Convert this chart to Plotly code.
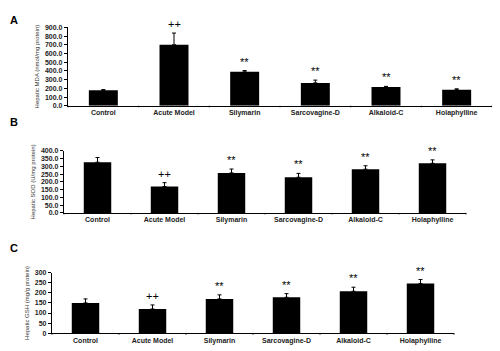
import plotly.graph_objects as go

categories = ["Control", "Acute Model", "Silymarin", "Sarcovagine-D", "Alkaloid-C", "Holaphylline"]

mda_values = [178, 700, 390, 263, 215, 185]
mda_errors = [8, 135, 15, 32, 8, 10]
mda_marks = ["", "++", "**", "**", "**", "**"]

sod_values = [327, 170, 258, 230, 282, 320]
sod_errors = [30, 25, 25, 25, 22, 22]
sod_marks = ["", "++", "**", "**", "**", "**"]

gsh_values = [150, 120, 170, 178, 208, 246]
gsh_errors = [20, 20, 20, 18, 20, 20]
gsh_marks = ["", "++", "**", "**", "**", "**"]

W, H = 500, 351
OX, OY = 8, 10  # page offset of the figure inside the browser window
FONT = "Liberation Sans, Arial, sans-serif"

panels = [
    dict(vals=mda_values, errs=mda_errors, marks=mda_marks, letter="A",
         title="Hepatic MDA (nmol/mg protein)", rng=[0, 900], dtick=100, fmt=".1f",
         x0=68, x1=492, top=25.7, bot=105.7, ly=10, anc="top"),
    dict(vals=sod_values, errs=sod_errors, marks=sod_marks, letter="B",
         title="Hepatic SOD (U/mg protein)", rng=[0, 400], dtick=50, fmt=".1f",
         x0=64, x1=466, top=151.7, bot=215, ly=122, anc="middle"),
    dict(vals=gsh_values, errs=gsh_errors, marks=gsh_marks, letter="C",
         title="Hepatic GSH (mg/g protein)", rng=[0, 300], dtick=50, fmt="d",
         x0=52, x1=454, top=276, bot=337.7, ly=251, anc="middle"),
]


def px(x):
    return (x - OX) / W


def py(y):
    return 1 - (y - OY) / H


fig = go.Figure()
annotations = []
for i, p in enumerate(panels, start=1):
    xa = "x" if i == 1 else f"x{i}"
    ya = "y" if i == 1 else f"y{i}"
    fig.add_trace(go.Bar(
        x=categories, y=p["vals"], xaxis=xa, yaxis=ya,
        marker=dict(color="black", line=dict(width=0)),
        width=0.41,
        error_y=dict(type="data", array=p["errs"], arrayminus=[0] * len(p["errs"]),
                     symmetric=False, color="black", thickness=1, width=2),
        showlegend=False, hoverinfo="skip",
    ))
    xkey = "xaxis" if i == 1 else f"xaxis{i}"
    ykey = "yaxis" if i == 1 else f"yaxis{i}"
    fig.update_layout(**{
        xkey: dict(domain=[px(p["x0"]), px(p["x1"])], anchor=ya,
                   showline=True, linecolor="black", linewidth=1.3,
                   ticks="", tickfont=dict(family=FONT, size=7, color="#222", weight="bold"),
                   showgrid=False, zeroline=False, fixedrange=True,
                   range=[-0.5, 5.5]),
        ykey: dict(domain=[py(p["bot"]), py(p["top"])], anchor=xa,
                   range=p["rng"], dtick=p["dtick"], tickformat=p["fmt"],
                   showline=True, linecolor="black", linewidth=1.3,
                   ticks="outside", ticklen=3, tickwidth=1, tickcolor="black",
                   tickfont=dict(family=FONT, size=7, color="#222", weight="bold"),
                   showgrid=False, zeroline=False, fixedrange=True,
                   title=dict(text=p["title"], font=dict(family=FONT, size=6, color="#333"),
                              standoff=4)),
    })
    # category boundary ticks on x-axis
    for k in range(7):
        annotations.append(dict(
            x=-0.5 + k, y=0, xref=xa, yref=ya, text="", showarrow=True,
            arrowhead=0, arrowwidth=1, arrowcolor="black", ax=0, ay=3,
        ))
    for c, v, e, m in zip(categories, p["vals"], p["errs"], p["marks"]):
        if m:
            annotations.append(dict(
                x=c, y=v + e, xref=xa, yref=ya, text=m, showarrow=False,
                yanchor="bottom", yshift=1,
                font=dict(family=FONT, size=11, color="black"),
            ))
    annotations.append(dict(
        x=0, y=py(p["ly"]), xref="paper", yref="paper", text=p["letter"],
        showarrow=False, xanchor="left", yanchor=p["anc"],
        font=dict(family=FONT, size=11, color="black", weight="bold"),
    ))

fig.update_layout(
    width=W, height=H, margin=dict(l=0, r=0, t=0, b=0),
    paper_bgcolor="white", plot_bgcolor="white",
    annotations=annotations, bargap=0.59,
)

fig.write_html("out.html")
